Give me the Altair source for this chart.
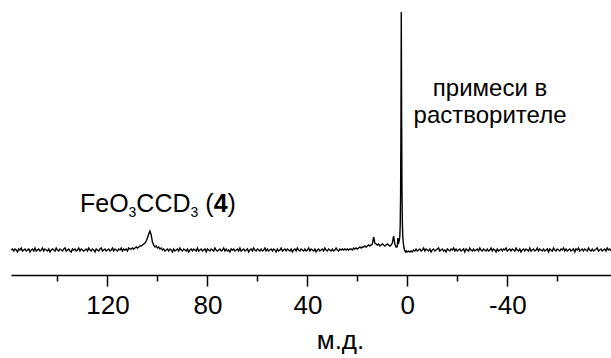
import altair as alt
import pandas as pd

# ---- spectrum data (chemical shift in ppm, intensity in arbitrary units) ----
STEP = 0.5

seg_a_start = 158.5
seg_a = [0, 1, -1, 1, 0, -2, 1, 0, 2, -1, 0, 1, -1, 0, 1, -2, 0, 1, -1, 2,
         -1, 0, 1, -1, 0, 2, -1, 1, 0, -1, 1, -2, 0, 1, 0, -1, 2, 0, -1, 1,
         0, -1, 1, 2, -1, 0, 1, -1, -2, 1, 0, 1, -1, 0, 2, -1, 1, 0, -1, 0,
         1, -1, 2, 0, -1, 1, 0, -2, 1, 0, -1, 1, 2, -1, 0, 1, -1, 0, 1, -1,
         0, 2, -1, 1, 0, -1, 1, 0, 2, -1, 1, 0, 1, -1, 2, 1]

seg_b_start = 110.5  # FeO3CCD3 signal near 103 ppm
seg_b = [1, 2, 1, 2, 3, 2, 3, 4, 4, 5, 6, 7, 9, 12, 16, 19, 15, 8, 5, 3,
         4, 2, 3, 1, 2, 0, 1, -1, 0, 1]

seg_c_start = 95.5
seg_c = [-1, 1, 0, -2, 1, -1, 0, 1, -1, 2, 0, -1, 1, 0, -1, 1, -2, 0, 1, -1,
         1, 0, -1, 2, -1, 0, 1, -1, 0, 1, -2, 1, 0, -1, 1, 0, -1, 2, 0, -1,
         0, 1, -1, 0, 2, -1, 1, -1, 0, -2, 1, 0, 1, -1, 0, 1, -1, 2, -1, 0,
         1, -1, 0, 1, -2, 0, 1, -1, 2, 0, -1, 1, 0, -1, 1, -1, 0, 2, -1, 1,
         -1, 0, 1, -1, 1, 0, -2, 1, -1, 0, 2, -1, 0, 1, -1, 1, 0, -1, 1, -2,
         0, 1, -1, 2, 0, -1, 1, 0, -1, 1, -1, 0, 2, -1, 1, 0, -1, 1, -2, 0,
         1, -1, 0, 1, -1, 2, 0, -1, 1, 0, -1, 1, -1, 0, 2, 0, -1, 1, 0, 1,
         0, 1]

seg_d_start = 24.5  # shoulder and small peaks 13 and 6 ppm
seg_d = [0, 1, 0, 1, 1, 0, 2, 1, 2, 1,
         2, 3, 2, 3, 3, 4, 3, 4, 5, 4,
         5, 6, 13, 7, 6, 5, 6, 4, 5, 6,
         5, 4, 5, 6, 5, 4, 5, 7, 14, 6,
         3]

# main solvent-impurity peak (finer sampling)
peak_ppm = [4.2, 4.0, 3.8, 3.6, 3.4, 3.2, 3.0, 2.85, 2.7, 2.55, 2.42, 2.3,
            2.15, 2.0, 1.85, 1.7, 1.5, 1.3, 1.1, 0.9, 0.7, 0.4, 0.1]
peak_int = [3, 4, 12, 6, 8, 10, 14, 25, 55, 130, 238, 140,
            60, 28, 15, 9, 5, 2, 0, -1, -2, -1, -2]

seg_f_start = -0.5
seg_f = [-1, -2, -1, -2, 0, -1, 1, -1, 0, 1, -1, 0, 2, -1, 1, 0, -1, 1, -2, 0,
         1, -1, 0, 1, 2, -1, 0, 1, -1, 0, -2, 1, 0, -1, 1, 0, 2, -1, 1, -1,
         0, 1, -1, 0, 1, -2, 1, 0, -1, 2, 0, -1, 1, -1, 0, 1, -1, 2, 0, -1,
         1, 0, -1, 1, -1, 0, 2, -1, 1, 0, -2, 1, -1, 0, 1, -1, 1, 0, 2, -1,
         0, 1, -1, 1, 0, -1, 2, 0, -1, 1, -2, 0, 1, -1, 1, 0, -1, 2, -1, 0,
         1, -1, 0, 2, -1, 1, 0, -1, 1, -1, 0, 1, -2, 1, 0, -1, 2, 0, -1, 1,
         0, -1, 1, 0, 2, -1, 1, -1, 0, 1, -1, 0, 1, -2, 1, 0, 2, -1, 0, 1,
         -1, 1, 0, -1, 2, 0, -1, 1, -1, 0, 1, 2, -1, 0, 1, -1, 0, 1, -1, 2,
         0, 1, -1]

major_ticks = [120, 80, 40, 0, -40]
minor_ticks = [140, 100, 60, 20, -20, -60]
x_domain = [158.6, -81.5]
y_domain = [-25, 250]

axis_title = "м.д."
label_pieces = ["FeO", "3", "CCD", "3", "(", "4", ")"]
label_anchor = {"ppm": 131.0, "intensity": 38.3}
note_text = "примеси в\nрастворителе"
note_anchor = {"ppm": -33.1, "intensity": 154.5}

# ---- build table ----
rows = []
for start, vals in [(seg_a_start, seg_a), (seg_b_start, seg_b),
                    (seg_c_start, seg_c), (seg_d_start, seg_d)]:
    rows += [(start - STEP * i, v) for i, v in enumerate(vals)]
rows += list(zip(peak_ppm, peak_int))
rows += [(seg_f_start - STEP * i, v) for i, v in enumerate(seg_f)]
df = pd.DataFrame(rows, columns=["ppm", "intensity"])
df["idx"] = range(len(df))

FONT = "Liberation Sans, Arial, Helvetica, sans-serif"
xs = alt.Scale(domain=x_domain, nice=False, zero=False)
ys = alt.Scale(domain=y_domain, nice=False, zero=False)

line = alt.Chart(df).mark_line(color="black", strokeWidth=1.4, clip=True).encode(
    x=alt.X("ppm:Q", scale=xs,
            axis=alt.Axis(values=major_ticks, orient="bottom", title=axis_title,
                          grid=False, tickSize=11, tickWidth=1.5, tickColor="black",
                          domainColor="black", domainWidth=1.5,
                          labelFontSize=26, labelFont=FONT, labelColor="black",
                          labelBaseline="alphabetic", labelPadding=27,
                          labelFlush=False, labelOverlap=False,
                          labelExpr="'' + datum.value",
                          titleFont=FONT, titleFontSize=26, titleFontWeight="normal",
                          titleColor="black", titleX=329, titleY=73,
                          titleBaseline="alphabetic", titleAlign="center")),
    y=alt.Y("intensity:Q", scale=ys, axis=None),
    order="idx:Q",
)

minor = alt.Chart(pd.DataFrame({"ppm": minor_ticks})).mark_point(opacity=0).encode(
    x=alt.X("ppm:Q", scale=xs,
            axis=alt.Axis(values=minor_ticks, orient="bottom", title=None,
                          labels=False, domain=False, grid=False, tickSize=6,
                          tickWidth=1.5, tickColor="black")),
)

anchor_df = pd.DataFrame([label_anchor])
sizes = [25, 14, 25, 14, 25, 25, 25]
weights = ["normal", "normal", "normal", "normal", "normal", "bold", "normal"]
dys = [0, 5, 0, 5, 0, 0, 0]
dxs = [0, 48.6, 56.4, 110.6, 125.4, 133.7, 147.6]
pieces = []
for txt, fs, fw, dy, dx in zip(label_pieces, sizes, weights, dys, dxs):
    pieces.append(
        alt.Chart(anchor_df).mark_text(
            text=txt, font=FONT, fontSize=fs, fontWeight=fw, color="black",
            align="left", baseline="alphabetic", dx=dx, dy=dy
        ).encode(
            x=alt.X("ppm:Q", scale=xs, axis=None),
            y=alt.Y("intensity:Q", scale=ys, axis=None),
        )
    )

note_df = pd.DataFrame([dict(note_anchor, text=note_text)])
note = alt.Chart(note_df).mark_text(
    font=FONT, fontSize=24, color="black", align="center", baseline="alphabetic",
    lineBreak="\n", lineHeight=27
).encode(
    x=alt.X("ppm:Q", scale=xs, axis=None),
    y=alt.Y("intensity:Q", scale=ys, axis=None),
    text="text:N",
)

chart = alt.layer(line, minor, *pieces, note).resolve_axis(x="independent").properties(
    width=600, height=275,
    padding={"left": 11, "top": 0, "right": 0, "bottom": 83},
    autosize=alt.AutoSizeParams(type="none"),
    background="white",
).configure_view(stroke=None)

chart.save("out.html", embed_options={"renderer": "svg", "actions": False})
